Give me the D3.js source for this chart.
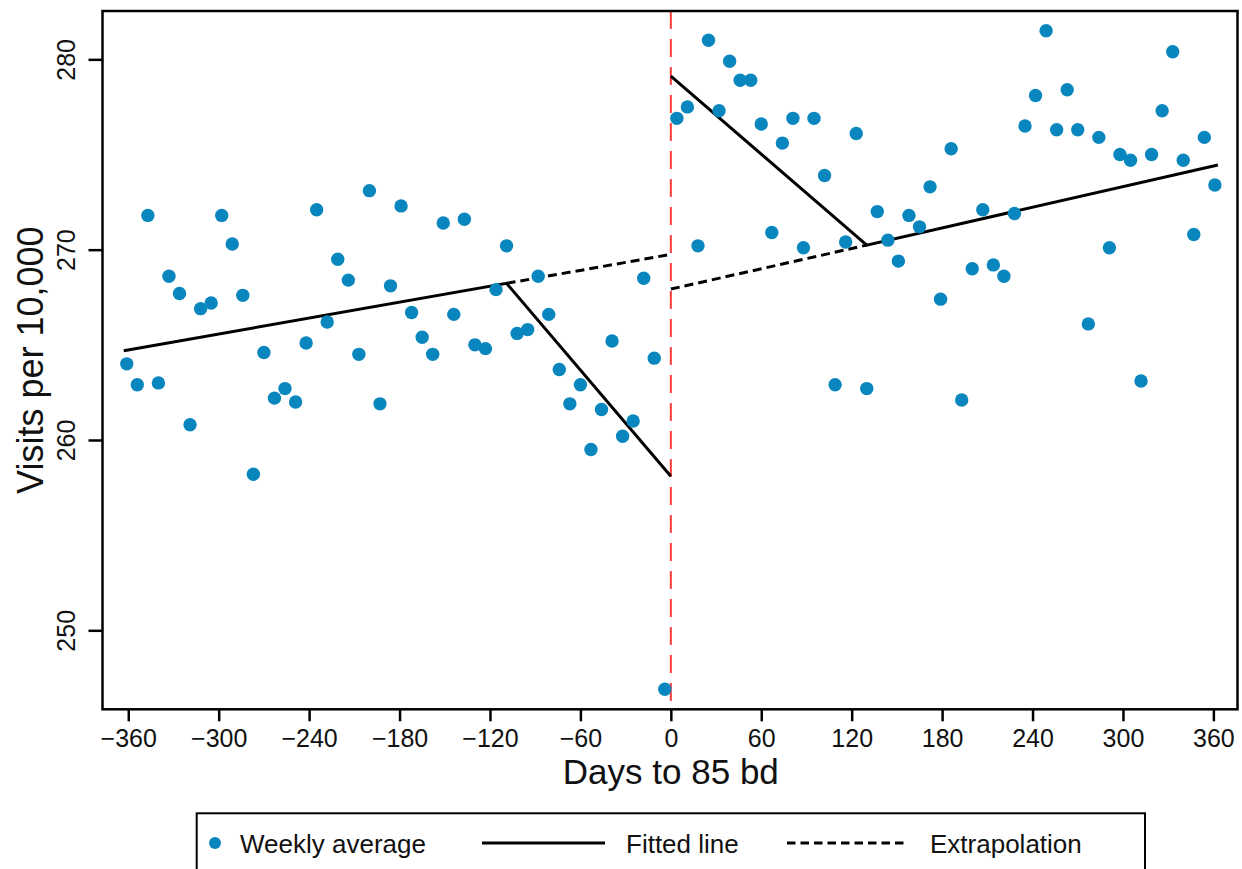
<!DOCTYPE html>
<html>
<head>
<meta charset="utf-8">
<script src="https://cdn.jsdelivr.net/npm/d3@7"></script>
<style>
  html, body { margin: 0; padding: 0; background: #fff; }
  svg { display: block; font-family: "Liberation Sans", Arial, sans-serif; }
</style>
</head>
<body>
<div id="chart"></div>
<script>
// weekly averages, days relative to the 85 bd date
const daysPre = [-361, -354, -347, -340, -333, -326, -319, -312, -305, -298, -291, -284, -277,
  -270, -263, -256, -249, -242, -235, -228, -221, -214, -207, -200, -193, -186, -179,
  -172, -165, -158, -151, -144, -137, -130, -123, -116, -109, -102, -95, -88, -81,
  -74, -67, -60, -53, -46, -39, -32, -25, -18, -11, -4];
const visitsPre = [264.0, 262.9, 271.8, 263.0, 268.6, 267.7, 260.8, 266.9, 267.2, 271.8, 270.3, 267.6, 258.2,
  264.6, 262.2, 262.7, 262.0, 265.1, 272.1, 266.2, 269.5, 268.4, 264.5, 273.1, 261.9, 268.1, 272.3,
  266.7, 265.4, 264.5, 271.4, 266.6, 271.6, 265.0, 264.8, 267.9, 270.2, 265.6, 265.8, 268.6, 266.6,
  263.7, 261.9, 262.9, 259.5, 261.6, 265.2, 260.2, 261.0, 268.5, 264.3, 246.9];

const daysPost = [4, 11, 18, 25, 32, 39, 46, 53, 60, 67, 74, 81, 88,
  95, 102, 109, 116, 123, 130, 137, 144, 151, 158, 165, 172, 179, 186,
  193, 200, 207, 214, 221, 228, 235, 242, 249, 256, 263, 270, 277, 284,
  291, 298, 305, 312, 319, 326, 333, 340, 347, 354, 361];
const visitsPost = [276.9, 277.5, 270.2, 281.0, 277.3, 279.9, 278.9, 278.9, 276.6, 270.9, 275.6, 276.9, 270.1,
  276.9, 273.9, 262.9, 270.4, 276.1, 262.7, 272.0, 270.5, 269.4, 271.8, 271.2, 273.3, 267.4, 275.3,
  262.1, 269.0, 272.1, 269.2, 268.6, 271.9, 276.5, 278.1, 281.5, 276.3, 278.4, 276.3, 266.1, 275.9,
  270.1, 275.0, 274.7, 263.1, 275.0, 277.3, 280.4, 274.7, 270.8, 275.9, 273.4];

// fitted piecewise lines and their extrapolations
const fittedPre = [[-363, 264.69], [-109, 268.23], [0, 258.1]];
const fittedPost = [[0, 279.12], [130, 270.24], [363, 274.45]];
const extrapPre = [[-109, 268.23], [0, 269.75]];
const extrapPost = [[0, 267.93], [130, 270.24]];

const xTicks = [-360, -300, -240, -180, -120, -60, 0, 60, 120, 180, 240, 300, 360];
const yTicks = [250, 260, 270, 280];

const legendItems = [
  { label: "Weekly average", type: "dot", x: 215, tx: 240 },
  { label: "Fitted line", type: "solid", x: 482, x2: 605, tx: 626 },
  { label: "Extrapolation", type: "dash", x: 787, x2: 908, tx: 930 }
];

const dotColor = "#0a86bf";

const width = 1242, height = 869;
const margin = { top: 11, left: 102.5, right: 4.5, bottom: 159.7 };
const plotW = width - margin.left - margin.right;
const plotH = height - margin.top - margin.bottom;

const svg = d3.select("#chart").append("svg")
  .attr("width", width)
  .attr("height", height);

const x = d3.scaleLinear().domain([-377.1, 376]).range([0, plotW]);
const y = d3.scaleLinear().domain([245.85, 282.54]).range([plotH, 0]);

const g = svg.append("g")
  .attr("transform", `translate(${margin.left},${margin.top})`);

// x axis
const xAxis = g.append("g")
  .attr("transform", `translate(0,${plotH})`)
  .call(d3.axisBottom(x).tickValues(xTicks).tickSize(12).tickPadding(8));
xAxis.select(".domain").remove();
xAxis.selectAll(".tick line").attr("stroke", "#000").attr("stroke-width", 2.5);
xAxis.selectAll(".tick text")
  .attr("font-size", 25)
  .attr("fill", "#111")
  .attr("dy", null)
  .attr("y", 38);

// y axis with rotated labels
const yAxis = g.append("g")
  .call(d3.axisLeft(y).tickValues(yTicks).tickSize(14));
yAxis.select(".domain").remove();
yAxis.selectAll(".tick line").attr("stroke", "#000").attr("stroke-width", 2.5);
yAxis.selectAll(".tick text")
  .attr("font-size", 25)
  .attr("fill", "#111")
  .attr("text-anchor", "middle")
  .attr("x", 0)
  .attr("y", -27.5)
  .attr("dy", null)
  .attr("transform", "rotate(-90)");

// axis titles
svg.append("text")
  .attr("x", margin.left + x(0))
  .attr("y", 784)
  .attr("text-anchor", "middle")
  .attr("font-size", 35)
  .attr("fill", "#111")
  .text("Days to 85 bd");

svg.append("text")
  .attr("transform", `translate(43,${margin.top + plotH / 2}) rotate(-90)`)
  .attr("text-anchor", "middle")
  .attr("font-size", 36)
  .attr("fill", "#111")
  .text("Visits per 10,000");

// vertical reference line at day 0
g.append("line")
  .attr("x1", x(0)).attr("x2", x(0))
  .attr("y1", 0).attr("y2", plotH)
  .attr("stroke", "#ff3b3b")
  .attr("stroke-width", 2)
  .attr("stroke-dasharray", "18,10");

const line = d3.line().x(d => x(d[0])).y(d => y(d[1]));

// extrapolations
[extrapPre, extrapPost].forEach(seg => {
  g.append("path")
    .attr("d", line(seg))
    .attr("fill", "none")
    .attr("stroke", "#000")
    .attr("stroke-width", 3)
    .attr("stroke-dasharray", "9,5");
});

// fitted lines
[fittedPre, fittedPost].forEach(seg => {
  g.append("path")
    .attr("d", line(seg))
    .attr("fill", "none")
    .attr("stroke", "#000")
    .attr("stroke-width", 3);
});

// weekly points
const points = daysPre.map((d, i) => [d, visitsPre[i]])
  .concat(daysPost.map((d, i) => [d, visitsPost[i]]));

g.selectAll("circle.pt")
  .data(points)
  .enter()
  .append("circle")
  .attr("class", "pt")
  .attr("cx", d => x(d[0]))
  .attr("cy", d => y(d[1]))
  .attr("r", 6.7)
  .attr("fill", dotColor);

// plot frame
g.append("rect")
  .attr("width", plotW)
  .attr("height", plotH)
  .attr("fill", "none")
  .attr("stroke", "#000")
  .attr("stroke-width", 2.5);

// legend
const legend = svg.append("g");
legend.append("rect")
  .attr("x", 196.7)
  .attr("y", 813.3)
  .attr("width", 948.3)
  .attr("height", 80)
  .attr("fill", "none")
  .attr("stroke", "#000")
  .attr("stroke-width", 2);

const legendY = 843;
legendItems.forEach(item => {
  if (item.type === "dot") {
    legend.append("circle")
      .attr("cx", item.x).attr("cy", legendY)
      .attr("r", 6)
      .attr("fill", dotColor);
  } else {
    legend.append("line")
      .attr("x1", item.x).attr("x2", item.x2)
      .attr("y1", legendY).attr("y2", legendY)
      .attr("stroke", "#000")
      .attr("stroke-width", 3)
      .attr("stroke-dasharray", item.type === "dash" ? "8.5,5" : null);
  }
  legend.append("text")
    .attr("x", item.tx)
    .attr("y", 853)
    .attr("font-size", 26)
    .attr("fill", "#111")
    .text(item.label);
});
</script>
</body>
</html>
